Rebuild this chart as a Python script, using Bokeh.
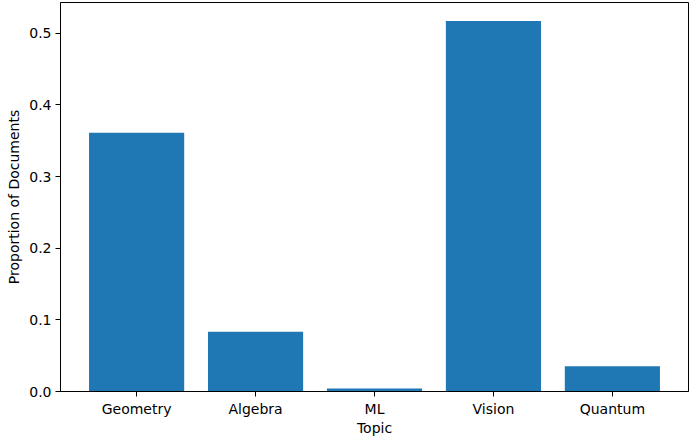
from bokeh.plotting import figure
from bokeh.models import Range1d, FixedTicker, PrintfTickFormatter, ColumnDataSource
from bokeh.embed import file_html
from bokeh.resources import INLINE

topics = ["Geometry", "Algebra", "ML", "Vision", "Quantum"]
proportions = [0.361, 0.0835, 0.0042, 0.517, 0.0354]
y_ticks = [0.0, 0.1, 0.2, 0.3, 0.4, 0.5]

xs = list(range(len(topics)))
src = ColumnDataSource(dict(x=xs, top=proportions))

p = figure(width=691, height=442, output_backend="svg", toolbar_location=None,
           x_range=Range1d(-0.64, len(topics) - 1 + 0.64),
           y_range=Range1d(0, max(proportions) * 1.05),
           min_border_left=60, min_border_right=3, min_border_top=2, min_border_bottom=51)

p.vbar(x="x", top="top", width=0.8, bottom=0, source=src, fill_color="#1f77b4", line_color=None)

p.xgrid.visible = False
p.ygrid.visible = False
p.outline_line_color = "black"
p.outline_line_width = 1
p.background_fill_color = "white"
p.border_fill_color = "white"

p.xaxis.ticker = FixedTicker(ticks=xs)
p.xaxis.major_label_overrides = {i: t for i, t in enumerate(topics)}
p.yaxis.ticker = FixedTicker(ticks=y_ticks)
p.yaxis.formatter = PrintfTickFormatter(format="%.1f")

for ax in (p.xaxis, p.yaxis):
    ax.minor_tick_line_color = None
    ax.major_tick_in = 0
    ax.major_tick_out = 5
    ax.major_tick_line_color = "black"
    ax.axis_line_color = "black"
    ax.major_label_text_font = "DejaVu Sans"
    ax.major_label_text_font_size = "14px"
    ax.major_label_text_color = "black"
    ax.axis_label_text_font = "DejaVu Sans"
    ax.axis_label_text_font_size = "14px"
    ax.axis_label_text_font_style = "normal"
    ax.axis_label_text_color = "black"

p.xaxis.axis_label = "Topic"
p.yaxis.axis_label = "Proportion of Documents"
p.xaxis.major_label_standoff = 4
p.xaxis.axis_label_standoff = 0
p.yaxis.major_label_standoff = 4
p.yaxis.axis_label_standoff = 4

open("out.html", "w").write(file_html(p, INLINE))
